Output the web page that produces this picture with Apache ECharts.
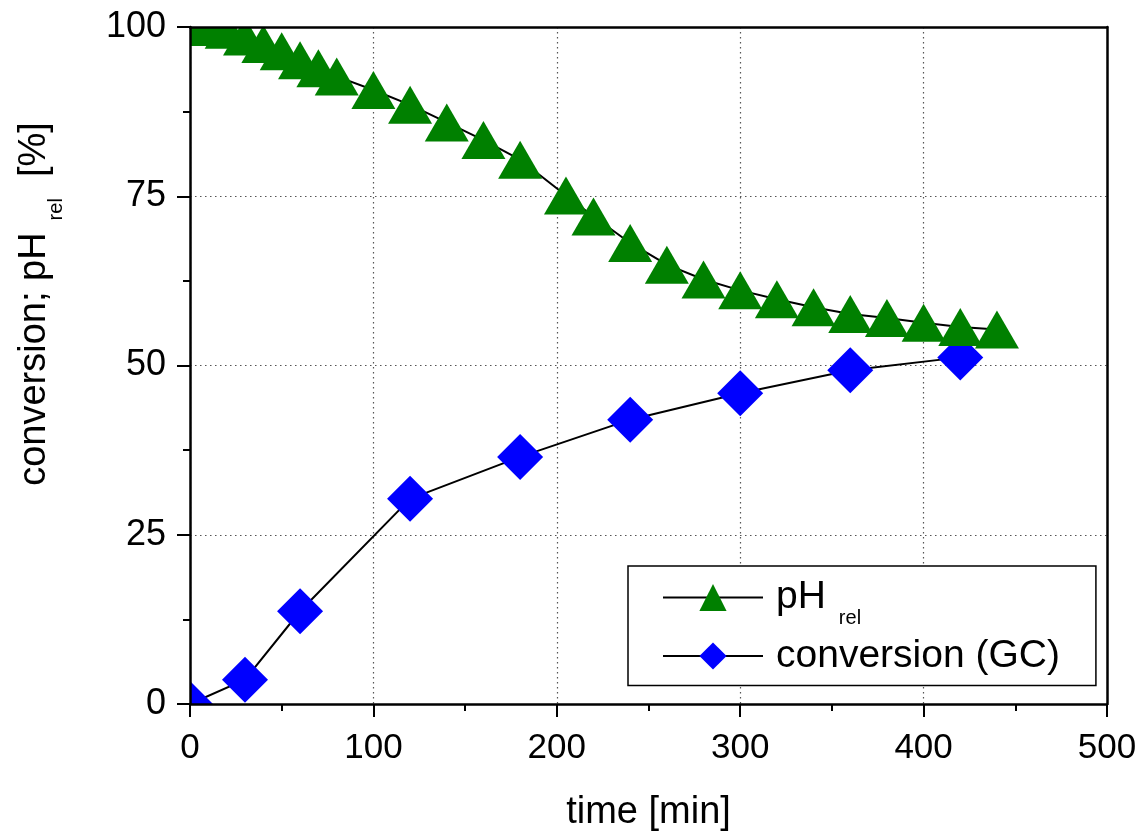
<!DOCTYPE html>
<html>
<head>
<meta charset="utf-8">
<script src="https://cdn.jsdelivr.net/npm/echarts@6/dist/echarts.min.js"></script>
<style>
html,body{margin:0;padding:0;background:#fff;}
#chart{width:1143px;height:832px;}
</style>
</head>
<body>
<div id="chart"></div>
<script>
// ---- data ----
const timePH = [0,10,20,30,40,50,60,70,80,100,120,140,160,180,205,220,240,260,280,300,320,340,360,380,400,420,440];
const pHrel  = [100,100,99.6,98.6,97.5,96.4,95.1,93.9,92.7,90.7,88.5,85.9,83.3,80.4,75.1,72.0,68.1,64.9,62.7,61.1,59.8,58.6,57.6,57.0,56.3,55.7,55.3];
const timeGC = [0,30,60,120,180,240,300,360,420];
const convGC = [0,3.6,13.7,30.3,36.5,42.0,45.9,49.3,51.2];
const xTicks = [0,100,200,300,400,500];
const yTicks = [0,25,50,75,100];

const FONT = '"Liberation Sans", Arial, sans-serif';
const GRID = {left:190, top:27, width:917, height:677};

const chart = echarts.init(document.getElementById('chart'), null, {renderer:'canvas'});

const xBase = {type:'value', min:xTicks[0], max:xTicks[xTicks.length-1], interval:100, gridIndex:0};
const yBase = {type:'value', min:yTicks[0], max:yTicks[yTicks.length-1], interval:25, gridIndex:0};
const hidden = {axisLine:{show:false}, axisTick:{show:false}, axisLabel:{show:false}};

const option = {
  backgroundColor:'#fff',
  animation:false,
  grid:[{left:GRID.left, top:GRID.top, width:GRID.width, height:GRID.height, containLabel:false, outerBoundsMode:'none'}],
  xAxis:[
    Object.assign({}, xBase, hidden, {position:'bottom', z:0,
      splitLine:{show:true, lineStyle:{color:'#555', width:1.2, type:[1.5,3.5]}}}),
    Object.assign({}, xBase, {position:'bottom', z:10,
      axisLine:{show:true, onZero:false, lineStyle:{color:'#000', width:2.5}},
      axisTick:{show:true, inside:false, length:13, lineStyle:{color:'#000', width:2}},
      minorTick:{show:true, splitNumber:2, length:7, lineStyle:{color:'#000', width:2}},
      axisLabel:{show:true, margin:27, fontSize:35, color:'#000', fontFamily:FONT},
      splitLine:{show:false},
      name:'time [min]', nameLocation:'middle', nameGap:90,
      nameTextStyle:{fontSize:38, color:'#000', fontFamily:FONT}}),
    Object.assign({}, xBase, hidden, {position:'top', z:10,
      axisLine:{show:true, onZero:false, lineStyle:{color:'#000', width:2.5}},
      splitLine:{show:false}})
  ],
  yAxis:[
    Object.assign({}, yBase, hidden, {position:'left', z:0,
      splitLine:{show:true, lineStyle:{color:'#555', width:1.2, type:[1.5,3.5]}}}),
    Object.assign({}, yBase, {position:'left', z:10,
      axisLine:{show:true, onZero:false, lineStyle:{color:'#000', width:2.5}},
      axisTick:{show:true, inside:false, length:13, lineStyle:{color:'#000', width:2}},
      minorTick:{show:true, splitNumber:2, length:7, lineStyle:{color:'#000', width:2}},
      axisLabel:{show:true, margin:24, fontSize:36, color:'#000', fontFamily:FONT},
      splitLine:{show:false},
      name:'conversion; pH{s|rel}  [%]', nameLocation:'middle', nameRotate:90, nameGap:124,
      nameTextStyle:{fontSize:38, color:'#000', fontFamily:FONT, padding:[0,0,0,123],
        rich:{s:{fontSize:20, fontFamily:FONT, color:'#000', padding:[42,0,0,12]}}}}),
    Object.assign({}, yBase, hidden, {position:'right', z:10,
      axisLine:{show:true, onZero:false, lineStyle:{color:'#000', width:2.5}},
      splitLine:{show:false}})
  ],
  legend:{
    show:true, orient:'vertical', left:628, top:566,
    itemWidth:100, itemHeight:34, itemGap:8,
    padding:[12,36,10,34],
    borderColor:'#000', borderWidth:1.5, backgroundColor:'#fff',
    data:['pH_rel','conversion (GC)'],
    formatter:function(n){ return n==='pH_rel' ? '{m|pH}{s|rel}' : '{m|conversion (GC)}'; },
    textStyle:{fontSize:39, color:'#000', fontFamily:FONT, padding:[0,0,0,8],
      rich:{m:{fontSize:39, fontFamily:FONT, color:'#000'},
            s:{fontSize:20, fontFamily:FONT, color:'#000', padding:[42,0,0,13]}}}
  },
  graphic:[
    {type:'rect', z:5, silent:true, shape:{x:0, y:0, width:1143, height:GRID.top}, style:{fill:'#fff'}},
    {type:'rect', z:5, silent:true, shape:{x:0, y:0, width:GRID.left, height:832}, style:{fill:'#fff'}},
    {type:'rect', z:5, silent:true, shape:{x:0, y:GRID.top+GRID.height, width:1143, height:832}, style:{fill:'#fff'}},
    {type:'rect', z:5, silent:true, shape:{x:GRID.left+GRID.width, y:0, width:100, height:832}, style:{fill:'#fff'}}
  ],
  series:[
    {type:'line', name:'conversion (GC)', xAxisIndex:0, yAxisIndex:0, z:2,
     data: timeGC.map((t,i)=>[t, convGC[i]]),
     symbol:'diamond', symbolSize:[46,46], showAllSymbol:true,
     itemStyle:{color:'#0000FF'}, lineStyle:{color:'#000', width:2}},
    {type:'line', name:'pH_rel', xAxisIndex:0, yAxisIndex:0, z:3,
     data: timePH.map((t,i)=>[t, pHrel[i]]),
     symbol:'triangle', symbolSize:[44,38], showAllSymbol:true,
     itemStyle:{color:'#008000'}, lineStyle:{color:'#000', width:2}}
  ]
};
chart.setOption(option);
</script>
</body>
</html>
